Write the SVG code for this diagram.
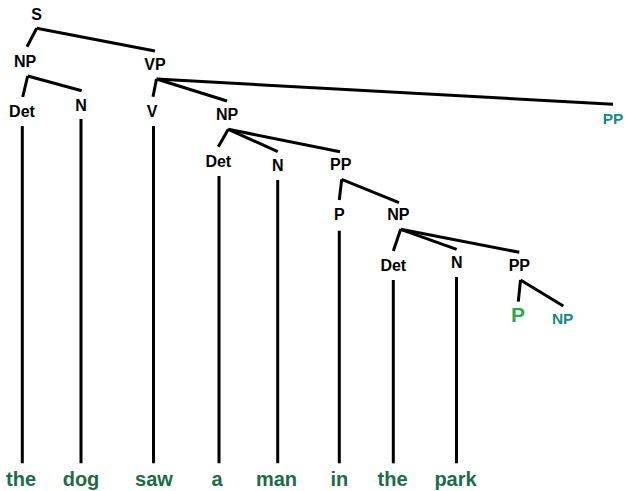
<svg xmlns="http://www.w3.org/2000/svg" width="626" height="491" viewBox="0 0 626 491">
<style>
text{font-family:"Liberation Sans",Arial,sans-serif;font-weight:bold;text-anchor:middle}
.lbl{font-size:16px;fill:#000}
.teal{font-size:15.5px;fill:#148a8a}
.gp{font-size:21px;fill:#2ca850}
.word{font-size:20px;fill:#1d6b48}
.edges line{stroke:#000;stroke-width:3}
</style>
<rect width="626" height="491" fill="#fff"/>
<g id="connectors" class="edges">
<line x1="36.7" y1="28.3" x2="27" y2="46.7"/>
<line x1="36.7" y1="28.3" x2="155" y2="51"/>
<line x1="27.7" y1="76" x2="22.7" y2="97"/>
<line x1="27.7" y1="76" x2="81.7" y2="90.7"/>
<line x1="156.5" y1="79" x2="153" y2="96.7"/>
<line x1="156.5" y1="79" x2="227" y2="101"/>
<line x1="156.5" y1="79" x2="613" y2="104.3"/>
<line x1="228.3" y1="129.3" x2="218.3" y2="146.7"/>
<line x1="228.3" y1="129.3" x2="277.7" y2="151.7"/>
<line x1="228.3" y1="129.3" x2="340" y2="151.7"/>
<line x1="341.7" y1="179.3" x2="339.3" y2="200"/>
<line x1="341.7" y1="179.3" x2="399" y2="202.7"/>
<line x1="400.7" y1="229.3" x2="393.3" y2="251"/>
<line x1="400.7" y1="229.3" x2="456.7" y2="249.3"/>
<line x1="400.7" y1="229.3" x2="519.3" y2="252.3"/>
<line x1="520.5" y1="280" x2="518.3" y2="301.7"/>
<line x1="520.5" y1="280" x2="563.3" y2="306"/>
<line x1="22.3" y1="126" x2="22.3" y2="463.3"/>
<line x1="81" y1="119" x2="81" y2="463.3"/>
<line x1="153.5" y1="126" x2="153.5" y2="463.3"/>
<line x1="219" y1="176" x2="219" y2="463.3"/>
<line x1="277.7" y1="180" x2="277.7" y2="463.3"/>
<line x1="339.3" y1="230.7" x2="339.3" y2="463.3"/>
<line x1="393.3" y1="280" x2="393.3" y2="463.3"/>
<line x1="456.5" y1="277" x2="456.5" y2="463.3"/>
</g>
<g id="S"><text class="lbl" x="36.7" y="19.5">S</text></g>
<g id="NP1"><text class="lbl" x="25" y="67">NP</text></g>
<g id="Det1"><text class="lbl" x="22" y="116.5">Det</text></g>
<g id="N1"><text class="lbl" x="81" y="110.5">N</text></g>
<g id="VP"><text class="lbl" x="155" y="69.5">VP</text></g>
<g id="V"><text class="lbl" x="152" y="116.5">V</text></g>
<g id="NP2"><text class="lbl" x="227" y="119.5">NP</text></g>
<g id="PP1"><text class="teal" x="613" y="123.5">PP</text></g>
<g id="Det2"><text class="lbl" x="218.3" y="166.5">Det</text></g>
<g id="N2"><text class="lbl" x="277.7" y="170.5">N</text></g>
<g id="PP2"><text class="lbl" x="340.7" y="169.5">PP</text></g>
<g id="P2"><text class="lbl" x="339.3" y="219.5">P</text></g>
<g id="NP3"><text class="lbl" x="398.3" y="219.5">NP</text></g>
<g id="Det3"><text class="lbl" x="393.3" y="270.5">Det</text></g>
<g id="N3"><text class="lbl" x="456.7" y="267.5">N</text></g>
<g id="PP3"><text class="lbl" x="519.3" y="270.5">PP</text></g>
<g id="P3"><text class="gp" x="518" y="322">P</text></g>
<g id="NP4"><text class="teal" x="562.7" y="323.5">NP</text></g>
<g id="w1"><text class="word" x="21" y="486">the</text></g>
<g id="w2"><text class="word" x="81" y="486">dog</text></g>
<g id="w3"><text class="word" x="154" y="486">saw</text></g>
<g id="w4"><text class="word" x="217" y="486">a</text></g>
<g id="w5"><text class="word" x="276.5" y="486">man</text></g>
<g id="w6"><text class="word" x="339.3" y="486">in</text></g>
<g id="w7"><text class="word" x="392.5" y="486">the</text></g>
<g id="w8"><text class="word" x="455.5" y="486">park</text></g>
</svg>
